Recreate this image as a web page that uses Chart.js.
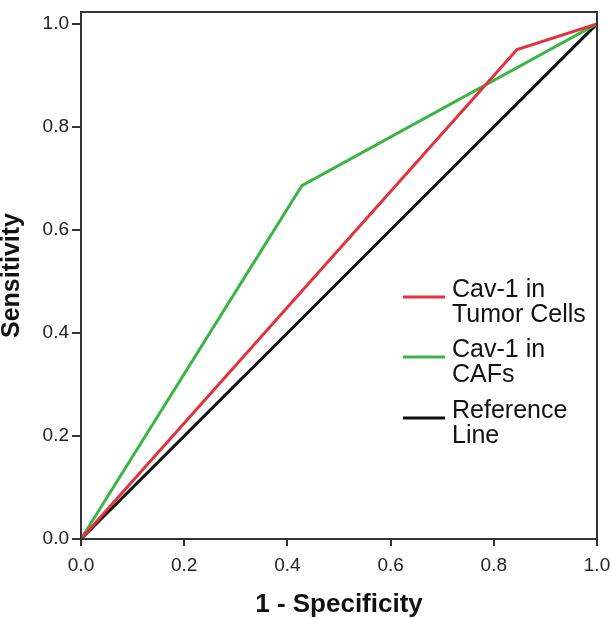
<!DOCTYPE html>
<html>
<head>
<meta charset="utf-8">
<script src="https://cdn.jsdelivr.net/npm/chart.js@4"></script>
<style>
html,body{margin:0;padding:0;background:#fff;}
#wrap{width:611px;height:620px;position:relative;}
</style>
</head>
<body>
<div id="wrap"><canvas id="c" width="611" height="620"></canvas></div>
<script>
// Data
const seriesNames = [["Cav-1 in","Tumor Cells"],["Cav-1 in","CAFs"],["Reference","Line"]];
const tumorX = [0, 0.845, 1];
const tumorY = [0, 0.95, 1];
const cafsX = [0, 0.428, 1];
const cafsY = [0, 0.686, 1];
const refX = [0, 1];
const refY = [0, 1];
const tickValues = [0, 0.2, 0.4, 0.6, 0.8, 1.0];
const colors = ['#e0333c', '#3db446', '#111111'];

function pts(xs, ys){ return xs.map((x,i)=>({x:x, y:ys[i]})); }

const FONT = '"Liberation Sans", Arial, sans-serif';

const framePlugin = {
  id:'frame',
  afterDatasetsDraw(chart){
    const {ctx, chartArea:a} = chart;
    ctx.save();
    ctx.strokeStyle = '#333';
    ctx.lineWidth = 2;
    ctx.strokeRect(a.left, a.top, a.right - a.left, a.bottom - a.top);
    ctx.restore();
  }
};

const legendPlugin = {
  id:'customLegend',
  afterDraw(chart){
    const {ctx} = chart;
    const baselines = [297, 357, 418];
    ctx.save();
    ctx.font = '25px ' + FONT;
    ctx.fillStyle = '#111';
    ctx.textBaseline = 'alphabetic';
    ctx.textAlign = 'left';
    chart.data.datasets.forEach((ds, i) => {
      const b = baselines[i];
      ctx.strokeStyle = ds.borderColor;
      ctx.lineWidth = 3;
      ctx.beginPath();
      ctx.moveTo(403, b);
      ctx.lineTo(445, b);
      ctx.stroke();
      const lines = seriesNames[i];
      lines.forEach((t, j) => ctx.fillText(t, 452, b + j * 25));
    });
    ctx.restore();
  }
};

new Chart(document.getElementById('c'), {
  type: 'scatter',
  data: {
    datasets: [
      {label: seriesNames[0].join(' '), data: pts(tumorX, tumorY), borderColor: colors[0], showLine: true, pointRadius: 0, borderWidth: 3, fill: false, tension: 0},
      {label: seriesNames[1].join(' '), data: pts(cafsX, cafsY), borderColor: colors[1], showLine: true, pointRadius: 0, borderWidth: 3, fill: false, tension: 0},
      {label: seriesNames[2].join(' '), data: pts(refX, refY), borderColor: colors[2], showLine: true, pointRadius: 0, borderWidth: 3, fill: false, tension: 0}
    ]
  },
  options: {
    responsive: false,
    animation: false,
    layout: {padding: {left: 0, right: 14, top: 12, bottom: 0}},
    plugins: {legend: {display: false}, tooltip: {enabled: false}},
    scales: {
      x: {
        type: 'linear', min: 0, max: 1,
        afterBuildTicks(s){ s.ticks = tickValues.map(v => ({value: v})); },
        afterFit(s){ s.height = 81; s.paddingLeft = 0; s.paddingRight = 0; },
        border: {display: true, color: '#333', width: 2},
        grid: {drawOnChartArea: false, drawTicks: true, tickLength: 7, color: '#333', lineWidth: 2},
        ticks: {color: '#222', font: {family: FONT, size: 19}, padding: 8, maxRotation: 0,
          callback: v => Number(v).toFixed(1)},
        title: {display: true, text: '1 - Specificity', color: '#111',
          font: {family: FONT, size: 26, weight: 'bold'}, padding: {top: 0, bottom: 0}}
      },
      y: {
        type: 'linear', min: 0, max: 1.023,
        afterBuildTicks(s){ s.ticks = tickValues.map(v => ({value: v})); },
        afterFit(s){ s.width = 81; s.paddingTop = 0; s.paddingBottom = 0; },
        border: {display: true, color: '#333', width: 2},
        grid: {drawOnChartArea: false, drawTicks: true, tickLength: 9, color: '#333', lineWidth: 2},
        ticks: {color: '#222', font: {family: FONT, size: 19}, padding: 3,
          callback: v => Number(v).toFixed(1)},
        title: {display: true, text: 'Sensitivity', color: '#111',
          font: {family: FONT, size: 25, weight: 'bold', lineHeight: 1}, padding: {top: 0, bottom: 0}}
      }
    }
  },
  plugins: [framePlugin, legendPlugin]
});
</script>
</body>
</html>
